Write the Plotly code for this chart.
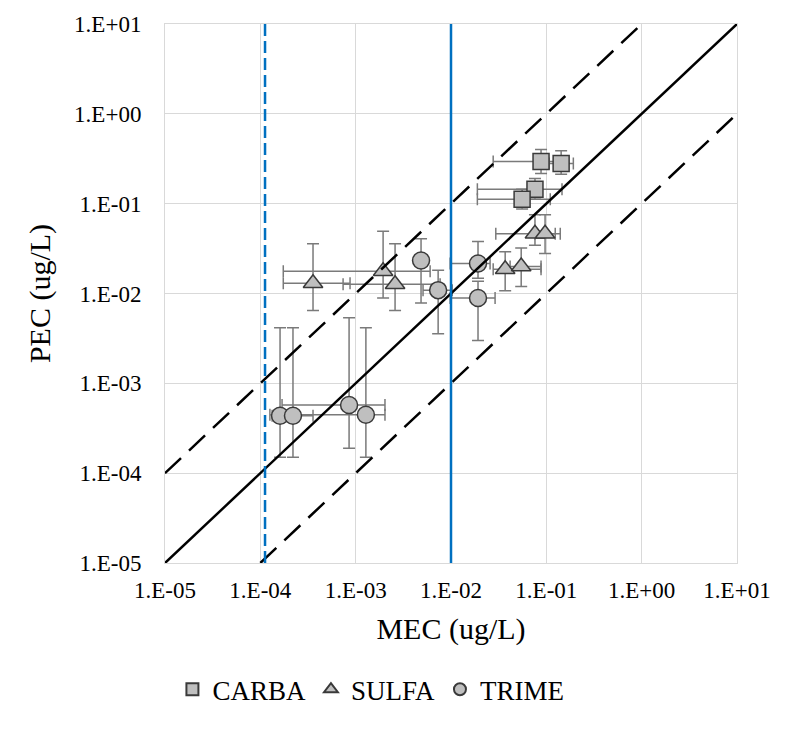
import plotly.graph_objects as go

# ---------------- data ----------------
carba_mec = [0.088, 0.143, 0.076, 0.0557]
carba_pec = [0.294, 0.28, 0.145, 0.112]
carba_mec_lo = [0.0277, 0.107, 0.0189, 0.0189]
carba_mec_hi = [0.14, 0.192, 0.146, 0.11]
carba_pec_lo = [0.217, 0.213, 0.112, 0.087]
carba_pec_hi = [0.40, 0.389, 0.191, 0.145]

sulfa_mec = [0.076, 0.097, 0.037, 0.0545, 3.57e-4, 1.94e-3, 2.59e-3]
sulfa_pec = [0.0462, 0.0462, 0.0186, 0.020, 0.013, 0.0177, 0.0127]
sulfa_mec_lo = [0.0295, 0.076, 0.0277, 0.0417, 1.74e-4, 1.74e-4, 7.38e-4]
sulfa_mec_hi = [0.14, 0.124, 0.088, 0.088, 8.73e-4, 6.04e-3, 7.69e-3]
sulfa_pec_lo = [0.0344, 0.0279, 0.0107, 0.012, 0.00646, 0.0089, 0.00646]
sulfa_pec_hi = [0.0755, 0.0755, 0.0291, 0.0322, 0.0359, 0.0493, 0.0359]

trime_mec = [4.85e-3, 7.33e-3, 0.0192, 0.0192, 1.61e-4, 2.2e-4, 8.53e-4, 1.28e-3]
trime_pec = [0.0233, 0.0109, 0.0216, 0.0089, 4.35e-4, 4.35e-4, 5.75e-4, 4.47e-4]
trime_mec_lo = [4.5e-3, 5.09e-3, 9.8e-3, 9.8e-3, 1.33e-4, 1.61e-4, 1.69e-4, 1.26e-4]
trime_mec_hi = [5.2e-3, 0.0103, 0.0257, 0.029, 2.05e-4, 3.57e-4, 2.03e-3, 2.03e-3]
trime_pec_lo = [0.00783, 0.00357, 0.0148, 0.003, 1.5e-4, 1.5e-4, 1.9e-4, 1.5e-4]
trime_pec_hi = [0.0407, 0.0182, 0.0378, 0.0137, 4.16e-3, 4.16e-3, 5.36e-3, 4.16e-3]

tick_vals = [1e-5, 1e-4, 1e-3, 1e-2, 1e-1, 1e0, 1e1]
tick_text = ["1.E-05", "1.E-04", "1.E-03", "1.E-02", "1.E-01", "1.E+00", "1.E+01"]

ratio_factors = [10, 1, 0.1]          # PEC/MEC = 10, 1, 0.1
ratio_dash = ["dash", "solid", "dash"]
axis_min, axis_max = 1e-5, 1e1

thresholds = [1.12e-4, 1e-2]
threshold_dash = ["dash", "solid"]

# ---------------- figure ----------------
FONT = "Liberation Serif, Times New Roman, serif"
fill = "#bfbfbf"
edge = "#3a3a3a"
err_col = "#7a7a7a"

fig = go.Figure()

def add_series(name, symbol, mx, py, mlo, mhi, plo, phi, size):
    fig.add_trace(go.Scatter(
        x=mx, y=py, mode="markers", name=name,
        marker=dict(symbol=symbol, size=size, color=fill,
                    line=dict(color=edge, width=1.5)),
        error_x=dict(type="data", symmetric=False,
                     array=[h - v for h, v in zip(mhi, mx)],
                     arrayminus=[v - l for v, l in zip(mx, mlo)],
                     color=err_col, thickness=1.5, width=6),
        error_y=dict(type="data", symmetric=False,
                     array=[h - v for h, v in zip(phi, py)],
                     arrayminus=[v - l for v, l in zip(py, plo)],
                     color=err_col, thickness=1.5, width=6),
    ))

add_series("CARBA", "square", carba_mec, carba_pec, carba_mec_lo, carba_mec_hi,
           carba_pec_lo, carba_pec_hi, 16)
add_series("SULFA", "triangle-up", sulfa_mec, sulfa_pec, sulfa_mec_lo, sulfa_mec_hi,
           sulfa_pec_lo, sulfa_pec_hi, 17)
add_series("TRIME", "circle", trime_mec, trime_pec, trime_mec_lo, trime_mec_hi,
           trime_pec_lo, trime_pec_hi, 17)

for f, d in zip(ratio_factors, ratio_dash):
    x0 = max(axis_min, axis_min / f)
    x1 = min(axis_max, axis_max / f)
    fig.add_trace(go.Scatter(
        x=[x0, x1], y=[x0 * f, x1 * f], mode="lines", showlegend=False,
        hoverinfo="skip",
        line=dict(color="black", width=2.5, dash="solid" if d == "solid" else "22px,11px"),
    ))

for t, d in zip(thresholds, threshold_dash):
    fig.add_shape(type="line", xref="x", yref="paper", x0=t, x1=t, y0=0, y1=1,
                  line=dict(color="#0070c0", width=2.5,
                            dash="solid" if d == "solid" else "12px,5px"))

axis_common = dict(
    type="log", range=[-5, 1], tickvals=tick_vals, ticktext=tick_text,
    showgrid=True, gridcolor="#d9d9d9", gridwidth=1,
    showline=True, linecolor="#d9d9d9", linewidth=1, mirror=True,
    zeroline=False, ticks="", tickfont=dict(family=FONT, size=23, color="black"),
)

fig.update_layout(
    width=800, height=734,
    margin=dict(l=165, r=63, t=18, b=171),
    paper_bgcolor="white", plot_bgcolor="white",
    font=dict(family=FONT, color="black"),
    xaxis=dict(**axis_common, ticklabelstandoff=6,
               title=dict(text="MEC (ug/L)", font=dict(family=FONT, size=30), standoff=16)),
    yaxis=dict(**axis_common, ticklabelstandoff=18,
               title=dict(text="PEC (ug/L)", font=dict(family=FONT, size=30), standoff=14)),
    showlegend=True,
    legend=dict(orientation="h", x=0.36, xanchor="center", y=-0.235, yanchor="middle",
                font=dict(family=FONT, size=27), itemsizing="constant",
                tracegroupgap=0, itemwidth=30),
)

fig.write_html("out.html")
